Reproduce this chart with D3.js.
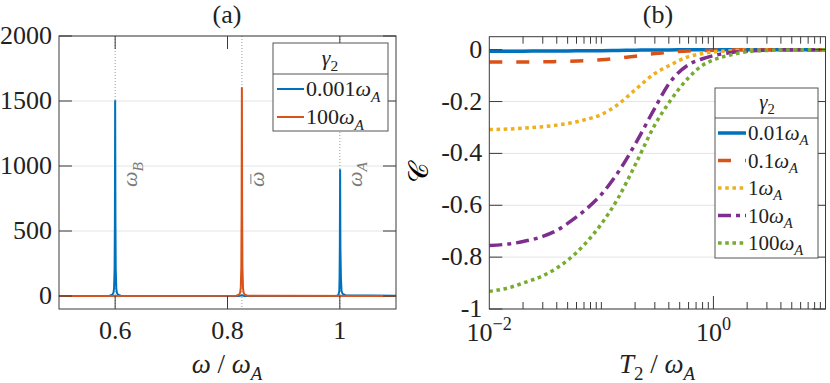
<!DOCTYPE html>
<html>
<head>
<meta charset="utf-8">
<script src="https://cdn.jsdelivr.net/npm/d3@7"></script>
</head>
<body style="margin:0;background:#fff">
<svg id="figure" width="830" height="383"></svg>
<script>
// ---- panel (a): spectrum vs omega ----
const omegaTicks = [0.6, 0.8, 1];
const specTicks = [0, 500, 1000, 1500, 2000];
const markerOmega = [0.6, 0.8256, 1.0];
const markerNames = [["ω", "B"], ["ω", ""], ["ω", "A"]];
const markerBar = [false, true, false];

const blueOmega = [0.5, 0.59, 0.595, 0.597, 0.598, 0.599, 0.5995, 0.6, 0.6005, 0.601, 0.602, 0.603, 0.605, 0.61,
                   0.82, 0.8256, 0.83,
                   0.99, 0.995, 0.997, 0.998, 0.999, 0.9995, 1.0, 1.0005, 1.001, 1.002, 1.003, 1.005, 1.01, 1.1];
const blueSpec  = [0, 2, 10, 26, 58, 207, 590, 1505, 590, 207, 58, 26, 10, 2,
                   0, 6, 0,
                   0, 2, 6, 17, 38, 135, 380, 975, 380, 135, 38, 17, 6, 2, 0];
const redOmega  = [0.5, 0.8156, 0.8206, 0.8226, 0.8236, 0.8246, 0.8251, 0.8256, 0.8261, 0.8266, 0.8276, 0.8286, 0.8306, 0.8356, 1.1];
const redSpec   = [0, 2, 10, 28, 62, 220, 630, 1605, 630, 220, 62, 28, 10, 2, 0];
const specLegend = ["0.001", "100"];

// ---- panel (b): C vs T2 ----
const T2 = [0.01, 0.015, 0.02, 0.03, 0.04, 0.05, 0.07, 0.1, 0.14, 0.2, 0.3, 0.4, 0.6, 0.8, 1, 1.5, 2, 3, 5, 10];
const corrG001 = [-0.006, -0.006, -0.006, -0.005, -0.005, -0.005, -0.004, -0.004, -0.003, -0.002, -0.001, -0.001, 0, 0, 0, 0, 0, 0, 0, 0];
const corrG01  = [-0.048, -0.048, -0.048, -0.047, -0.046, -0.045, -0.043, -0.039, -0.033, -0.025, -0.015, -0.010, -0.005, -0.003, -0.002, -0.001, 0, 0, 0, 0];
const corrG1   = [-0.308, -0.306, -0.303, -0.297, -0.291, -0.285, -0.271, -0.250, -0.212, -0.155, -0.092, -0.062, -0.027, -0.015, -0.009, -0.004, -0.002, -0.001, 0, 0];
const corrG10  = [-0.755, -0.749, -0.740, -0.720, -0.697, -0.670, -0.622, -0.558, -0.475, -0.365, -0.225, -0.132, -0.058, -0.035, -0.023, -0.010, -0.005, -0.002, 0, 0];
const corrG100 = [-0.932, -0.918, -0.900, -0.872, -0.842, -0.812, -0.753, -0.672, -0.575, -0.445, -0.290, -0.205, -0.108, -0.060, -0.040, -0.018, -0.008, -0.003, -0.001, 0];
const corrTicks = [0, -0.2, -0.4, -0.6, -0.8, -1];
const corrTickLabels = ["0", "-0.2", "-0.4", "-0.6", "-0.8", "-1"];
const gammaLabels = ["0.01", "0.1", "1", "10", "100"];

const blue = "#0072BD", red = "#D95319", yellow = "#EDB120", purple = "#7E2F8E", green = "#77AC30";
const axisColor = "#3a3a3a", gridColor = "#e4e4e4";
const serif = "Liberation Serif";

const svg = d3.select("#figure");

// writes text made of parts: [string, italic, "sub"|"sup"|undefined]
function mathText(sel, parts, size) {
    let shift = 0;
    parts.forEach(p => {
        const target = p[2] === "sub" ? size * 0.25 : p[2] === "sup" ? -size * 0.42 : 0;
        sel.append("tspan")
            .attr("dy", target - shift)
            .attr("font-size", p[2] ? size * 0.7 : size)
            .attr("font-style", p[1] ? "italic" : "normal")
            .text(p[0]);
        shift = target;
    });
    return sel;
}

// ================= panel (a) =================
const a = { left: 59, right: 396, top: 36, bottom: 309 };
const xA = d3.scaleLinear().domain([0.5, 1.1]).range([a.left, a.right]);
const yA = d3.scaleLinear().domain([-100, 2000]).range([a.bottom, a.top]);
const gA = svg.append("g");

gA.selectAll(".grid").data(specTicks).enter().append("line")
    .attr("x1", a.left).attr("x2", a.right)
    .attr("y1", d => yA(d)).attr("y2", d => yA(d))
    .attr("stroke", gridColor).attr("stroke-width", 1);

gA.selectAll(".marker").data(markerOmega).enter().append("line")
    .attr("x1", d => xA(d)).attr("x2", d => xA(d))
    .attr("y1", a.top).attr("y2", a.bottom)
    .attr("stroke", "#9a9a9a").attr("stroke-width", 1).attr("stroke-dasharray", "1,2");

const specLine = d3.line().x(d => xA(d[0])).y(d => yA(d[1]));
gA.append("path").datum(blueOmega.map((w, i) => [w, blueSpec[i]]))
    .attr("d", specLine).attr("fill", "none").attr("stroke", blue).attr("stroke-width", 2);
gA.append("path").datum(redOmega.map((w, i) => [w, redSpec[i]]))
    .attr("d", specLine).attr("fill", "none").attr("stroke", red).attr("stroke-width", 2);

markerOmega.forEach((w, i) => {
    const x = xA(w) + 22, y = 187;
    const g = gA.append("g").attr("transform", `translate(${x},${y}) rotate(-90)`);
    const t = g.append("text").attr("class", "grey");
    mathText(t, [[markerNames[i][0], true], [markerNames[i][1], true, "sub"]], 22);
    if (markerBar[i]) {
        g.append("line").attr("x1", 3).attr("x2", 13).attr("y1", -13).attr("y2", -13)
            .attr("stroke", "#7a7a7a").attr("stroke-width", 1);
    }
});

// box + ticks
gA.append("rect").attr("x", a.left).attr("y", a.top)
    .attr("width", a.right - a.left).attr("height", a.bottom - a.top)
    .attr("fill", "none").attr("stroke", axisColor).attr("stroke-width", 1);
const tickLen = 13;
omegaTicks.forEach(t => {
    gA.append("line").attr("x1", xA(t)).attr("x2", xA(t)).attr("y1", a.bottom).attr("y2", a.bottom - tickLen).attr("stroke", axisColor);
    gA.append("line").attr("x1", xA(t)).attr("x2", xA(t)).attr("y1", a.top).attr("y2", a.top + tickLen).attr("stroke", axisColor);
});
specTicks.forEach(t => {
    gA.append("line").attr("x1", a.left).attr("x2", a.left + tickLen).attr("y1", yA(t)).attr("y2", yA(t)).attr("stroke", axisColor);
    gA.append("line").attr("x1", a.right).attr("x2", a.right - tickLen).attr("y1", yA(t)).attr("y2", yA(t)).attr("stroke", axisColor);
});
gA.selectAll(".xl").data(omegaTicks).enter().append("text")
    .attr("x", d => xA(d)).attr("y", 339).attr("text-anchor", "middle")
    .attr("font-size", 26).text(d => d3.format("")(d));
gA.selectAll(".yl").data(specTicks).enter().append("text")
    .attr("x", a.left - 7).attr("y", d => yA(d) + 8).attr("text-anchor", "end")
    .attr("font-size", 26).text(d => d);

gA.append("text").attr("x", 227).attr("y", 23).attr("text-anchor", "middle").attr("font-size", 26).text("(a)");
mathText(gA.append("text").attr("x", 227).attr("y", 373).attr("text-anchor", "middle"),
    [["ω", true], [" / ", false], ["ω", true], ["A", true, "sub"]], 27);

// legend (a)
const legA = gA.append("g");
legA.append("rect").attr("x", 273).attr("y", 43).attr("width", 115).attr("height", 88)
    .attr("fill", "#fff").attr("stroke", "#555").attr("stroke-width", 1);
legA.append("line").attr("x1", 273).attr("x2", 388).attr("y1", 74).attr("y2", 74).attr("stroke", "#555");
mathText(legA.append("text").attr("x", 330).attr("y", 65).attr("text-anchor", "middle"),
    [["γ", true], ["2", false, "sub"]], 22);
specLegend.forEach((g, i) => {
    const y = 89 + i * 28;
    legA.append("line").attr("x1", 277).attr("x2", 304).attr("y1", y).attr("y2", y)
        .attr("stroke", i === 0 ? blue : red).attr("stroke-width", 2);
    mathText(legA.append("text").attr("x", 306).attr("y", y + 7),
        [[g, false], ["ω", true], ["A", true, "sub"]], 22);
});

// ================= panel (b) =================
const b = { left: 489.3, right: 825.5, top: 36.7, bottom: 309 };
const xB = d3.scaleLog().domain([0.01, 10]).range([b.left, b.right]);
const yB = d3.scaleLinear().domain([-1, 0.05]).range([b.bottom, b.top]);
const gB = svg.append("g");

gB.selectAll(".grid").data(corrTicks).enter().append("line")
    .attr("x1", b.left).attr("x2", b.right)
    .attr("y1", d => yB(d)).attr("y2", d => yB(d))
    .attr("stroke", gridColor).attr("stroke-width", 1);

const series = [
    { vals: corrG001, color: blue, dash: null },
    { vals: corrG01, color: red, dash: "13,14" },
    { vals: corrG1, color: yellow, dash: "3.6,3.6" },
    { vals: corrG10, color: purple, dash: "13,5,4,5" },
    { vals: corrG100, color: green, dash: "3.6,3.6" }
];
gB.append("clipPath").attr("id", "clipB").append("rect")
    .attr("x", b.left).attr("y", b.top).attr("width", b.right - b.left).attr("height", b.bottom - b.top);
const corrLine = d3.line().x(d => xB(d[0])).y(d => yB(d[1])).curve(d3.curveMonotoneX);
series.forEach(s => {
    gB.append("path").datum(T2.map((t, i) => [t, s.vals[i]]))
        .attr("d", corrLine).attr("fill", "none").attr("clip-path", "url(#clipB)")
        .attr("stroke", s.color).attr("stroke-width", 3.5)
        .attr("stroke-dasharray", s.dash);
});

gB.append("rect").attr("x", b.left).attr("y", b.top)
    .attr("width", b.right - b.left).attr("height", b.bottom - b.top)
    .attr("fill", "none").attr("stroke", axisColor).attr("stroke-width", 1);
const minorT = [];
[0.01, 0.1, 1].forEach(dec => { for (let k = 2; k <= 9; k++) minorT.push(dec * k); });
minorT.push(0.1);
minorT.forEach(t => {
    gB.append("line").attr("x1", xB(t)).attr("x2", xB(t)).attr("y1", b.bottom).attr("y2", b.bottom - 7).attr("stroke", axisColor);
    gB.append("line").attr("x1", xB(t)).attr("x2", xB(t)).attr("y1", b.top).attr("y2", b.top + 7).attr("stroke", axisColor);
});
[1].forEach(t => {
    gB.append("line").attr("x1", xB(t)).attr("x2", xB(t)).attr("y1", b.bottom).attr("y2", b.bottom - tickLen).attr("stroke", axisColor);
    gB.append("line").attr("x1", xB(t)).attr("x2", xB(t)).attr("y1", b.top).attr("y2", b.top + tickLen).attr("stroke", axisColor);
});
corrTicks.forEach(t => {
    gB.append("line").attr("x1", b.left).attr("x2", b.left + tickLen).attr("y1", yB(t)).attr("y2", yB(t)).attr("stroke", axisColor);
    gB.append("line").attr("x1", b.right).attr("x2", b.right - tickLen).attr("y1", yB(t)).attr("y2", yB(t)).attr("stroke", axisColor);
});
gB.selectAll(".yl").data(corrTicks).enter().append("text")
    .attr("x", b.left - 7).attr("y", d => yB(d) + 8).attr("text-anchor", "end")
    .attr("font-size", 26).text((d, i) => corrTickLabels[i]);
[[0.01, "−2"], [1, "0"]].forEach(p => {
    mathText(gB.append("text").attr("x", xB(p[0])).attr("y", 341).attr("text-anchor", "middle"),
        [["10", false], [p[1], false, "sup"]], 26);
});

gB.append("text").attr("x", 658).attr("y", 23).attr("text-anchor", "middle").attr("font-size", 26).text("(b)");
mathText(gB.append("text").attr("x", 657).attr("y", 373).attr("text-anchor", "middle"),
    [["T", true], ["2", false, "sub"], [" / ", false], ["ω", true], ["A", true, "sub"]], 27);
gB.append("text").attr("class", "calc").attr("transform", "translate(428,173) rotate(-90)").attr("text-anchor", "middle")
    .attr("font-size", 28).text("𝒞");

// legend (b)
const legB = gB.append("g");
legB.append("rect").attr("x", 715).attr("y", 88).attr("width", 103).attr("height", 170)
    .attr("fill", "#fff").attr("stroke", "#555").attr("stroke-width", 1);
legB.append("line").attr("x1", 715).attr("x2", 818).attr("y1", 118).attr("y2", 118).attr("stroke", "#555");
mathText(legB.append("text").attr("x", 767).attr("y", 109).attr("text-anchor", "middle"),
    [["γ", true], ["2", false, "sub"]], 21);
gammaLabels.forEach((g, i) => {
    const y = 133 + i * 27.5;
    legB.append("line").attr("x1", 718).attr("x2", 746).attr("y1", y).attr("y2", y)
        .attr("stroke", series[i].color).attr("stroke-width", 3.5)
        .attr("stroke-dasharray", series[i].dash);
    mathText(legB.append("text").attr("x", 748).attr("y", y + 7),
        [[g, false], ["ω", true], ["A", true, "sub"]], 21);
});

// fonts and colours set on every text element directly
svg.selectAll("text:not(.calc)").attr("font-family", serif).style("font-family", serif).attr("fill", "#222");
svg.selectAll("tspan").attr("font-family", serif).style("font-family", serif);
svg.selectAll("text.grey").attr("fill", "#7a7a7a");
</script>
</body>
</html>
